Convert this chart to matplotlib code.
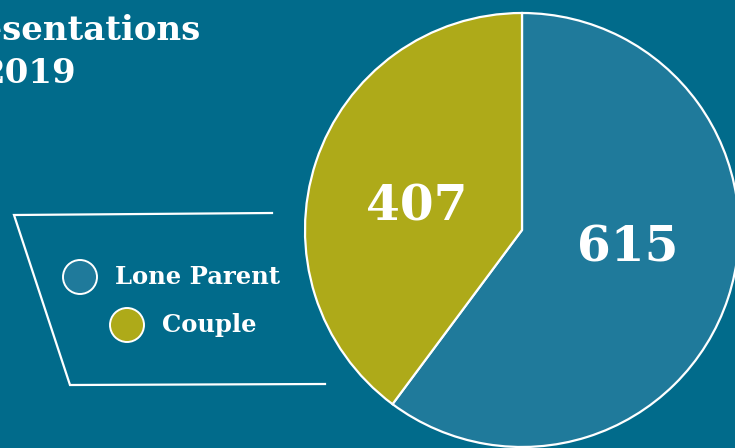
import matplotlib.pyplot as plt
from matplotlib.patches import Circle

# data
categories = ['Lone Parent', 'Couple']
values = [615, 407]
colours = ['#1f7a9b', '#aeaa19']
title_lines = ['Presentations', '2019']

bg = '#016b8b'
W, H = 735, 448

plt.rcParams['font.family'] = ['DejaVu Serif']

fig = plt.figure(figsize=(W / 100, H / 100), dpi=100)
fig.patch.set_facecolor(bg)
ax = fig.add_axes([0, 0, 1, 1])
ax.set_facecolor(bg)
ax.set_xlim(0, W)
ax.set_ylim(0, H)
ax.set_aspect('equal')
ax.axis('off')

# pie
cx, cy, r = 522, H - 230, 217
wedges, _ = ax.pie(values, colors=colours, startangle=90, counterclock=False,
                   center=(cx, cy), radius=r,
                   wedgeprops=dict(edgecolor='white', linewidth=1.6))
ax.set_xlim(0, W)
ax.set_ylim(0, H)

# value labels
ax.text(cx + 106, cy - 18, str(values[0]), color='white', fontsize=35,
        fontweight='bold', ha='center', va='center')
ax.text(cx - 105, cy + 23, str(values[1]), color='white', fontsize=35,
        fontweight='bold', ha='center', va='center')

# title (cut off on the left, as in the original)
ax.text(201, H - 40, title_lines[0], color='white', fontsize=24.5,
        fontweight='bold', ha='right', va='baseline')
ax.text(76, H - 83, title_lines[1], color='white', fontsize=24.5,
        fontweight='bold', ha='right', va='baseline')

# legend frame
ax.plot([272, 14, 70, 325], [H - 213, H - 215, H - 385, H - 384],
        color='white', lw=1.6, solid_joinstyle='miter')

# legend entries
leg = [(80, 277), (127, 325)]
for (lx, ly), name, col in zip(leg, categories, colours):
    ax.add_patch(Circle((lx, H - ly), 17, facecolor=col, edgecolor='white', lw=1.4))
    ax.text(lx + 35, H - ly, name, color='white', fontsize=17.5,
            fontweight='bold', ha='left', va='center')

fig.savefig('out.png', dpi=100, facecolor=bg)
